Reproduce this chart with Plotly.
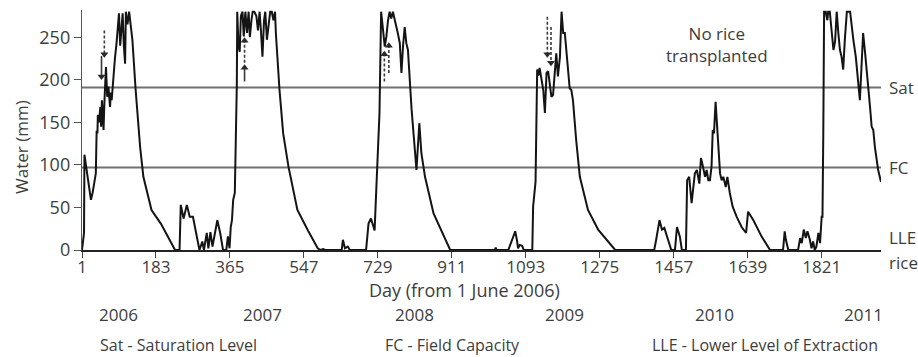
import plotly.graph_objects as go

# ---- data ----
days = [1, 6, 7, 11, 19, 23, 27, 35, 37, 39, 40, 43, 46, 48, 50, 52, 54, 56, 58, 60, 63, 66, 70, 72, 74, 78, 82, 86,
        89, 92, 95, 97, 101, 104, 107, 109, 113, 117, 121, 125, 133, 144, 152, 172, 195, 226, 230, 241, 244, 251,
        259, 266, 274, 290, 297, 301, 308, 312, 317, 322, 329, 334, 341, 348, 356, 360, 364, 367, 370, 373, 377,
        380, 382, 383, 386, 389, 392, 396, 399, 403, 407, 411, 414, 418, 421, 425, 430, 434, 438, 441, 445, 449,
        452, 456, 460, 464, 468, 472, 476, 478, 487, 496, 509, 531, 557, 581, 588, 594, 600, 640, 643, 648, 655,
        660, 700, 706, 712, 716, 721, 725, 729, 733, 737, 741, 746, 750, 754, 758, 762, 766, 770, 774, 778, 783,
        787, 791, 795, 799, 803, 812, 820, 824, 831, 836, 845, 866, 907, 1017, 1019, 1021, 1050, 1054, 1062,
        1067, 1071, 1074, 1078, 1084, 1088, 1109, 1111, 1117, 1121, 1124, 1127, 1131, 1136, 1140, 1144, 1148,
        1152, 1156, 1160, 1164, 1168, 1172, 1177, 1181, 1185, 1189, 1193, 1201, 1205, 1209, 1217, 1226, 1246,
        1271, 1313, 1409, 1413, 1422, 1428, 1434, 1443, 1451, 1460, 1465, 1472, 1477, 1487, 1490, 1495, 1501,
        1509, 1514, 1520, 1524, 1529, 1534, 1538, 1542, 1546, 1550, 1553, 1556, 1560, 1564, 1571, 1575, 1579,
        1585, 1589, 1595, 1602, 1612, 1624, 1635, 1640, 1653, 1673, 1694, 1726, 1730, 1733, 1739, 1763, 1768,
        1772, 1777, 1782, 1786, 1792, 1796, 1800, 1804, 1808, 1813, 1817, 1821, 1823, 1825, 1827, 1831, 1835,
        1837, 1841, 1846, 1850, 1854, 1858, 1862, 1866, 1870, 1874, 1878, 1883, 1891, 1895, 1899, 1905, 1911,
        1915, 1919, 1923, 1928, 1932, 1936, 1940, 1944, 1948, 1952, 1956, 1960, 1967]
water = [0, 20, 112, 98, 74, 59, 67, 90, 140, 137, 159, 150, 168, 145, 176, 160, 141, 172, 200, 215, 180, 192, 168,
         185, 176, 204, 225, 243, 265, 278, 240, 258, 278, 240, 219, 280, 265, 280, 262, 247, 188, 121, 86, 47, 31,
         4, 0, 0, 53, 37, 53, 39, 39, 0, 10, 0, 20, 2, 21, 4, 23, 35, 20, 0, 0, 16, 2, 27, 35, 59, 67, 137, 196, 280,
         240, 233, 275, 280, 251, 280, 255, 280, 250, 270, 280, 280, 275, 258, 280, 260, 227, 270, 280, 247, 265,
         280, 280, 270, 280, 255, 188, 137, 98, 47, 23, 2, 0, 1, 0, 0, 12, 2, 4, 0, 0, 31, 37, 30, 23, 70, 117, 161,
         280, 262, 239, 251, 270, 280, 272, 280, 272, 266, 255, 243, 208, 240, 262, 243, 235, 165, 110, 94, 149,
         114, 86, 43, 0, 0, 3, 0, 0, 5, 16, 22, 12, 2, 6, 5, 0, 0, 51, 80, 212, 205, 214, 204, 188, 161, 208, 210,
         192, 180, 182, 204, 231, 204, 227, 280, 255, 255, 231, 190, 188, 176, 129, 86, 47, 24, 0, 0, 10, 35, 24,
         26, 12, 0, 0, 27, 16, 0, 0, 82, 86, 55, 90, 94, 78, 108, 98, 86, 94, 82, 82, 98, 141, 137, 174, 145, 90,
         82, 86, 74, 86, 67, 51, 39, 27, 20, 45, 35, 16, 0, 0, 22, 12, 0, 0, 14, 8, 24, 14, 22, 12, 2, 10, 0, 4, 20,
         8, 39, 39, 137, 280, 280, 270, 280, 280, 255, 235, 245, 280, 255, 235, 227, 212, 247, 280, 280, 262, 247,
         227, 200, 176, 215, 255, 231, 212, 188, 168, 145, 141, 121, 110, 94, 80]

sat_level = 191
fc_level = 97

x_ticks = [1, 183, 365, 547, 729, 911, 1093, 1275, 1457, 1639, 1821]
y_ticks = [0, 50, 100, 150, 200, 250]

years = ["2006", "2007", "2008", "2009", "2010", "2011"]
year_days = [90, 444, 820, 1187, 1558, 1923]

# transplanting arrows: day, start value, end (tip) value, dashed?
arrow_day = [56, 49, 401, 401, 745, 756, 1146, 1155]
arrow_from = [258, 228, 198, 220, 198, 208, 274, 262]
arrow_to = [230, 204, 214, 246, 230, 240, 230, 220]
arrow_dashed = [True, False, False, True, True, True, True, True]

FONT = "Open Sans"
TXT = "#3d3d3d"

fig = go.Figure()

# Sat / FC reference lines
for lvl in (sat_level, fc_level):
    fig.add_shape(type="line", xref="paper", x0=0, x1=1, yref="y", y0=lvl, y1=lvl,
                  line=dict(color="#707070", width=2), layer="below")

# main series
fig.add_trace(go.Scatter(x=days, y=water, mode="lines",
                         line=dict(color="#141414", width=2), cliponaxis=False,
                         hoverinfo="skip", showlegend=False))

# arrows
for d, a, b, dsh in zip(arrow_day, arrow_from, arrow_to, arrow_dashed):
    fig.add_trace(go.Scatter(x=[d, d], y=[a, b], mode="lines",
                             line=dict(color="#3a3a3a", width=1.6, dash="3px,2px" if dsh else "solid"),
                             hoverinfo="skip", showlegend=False))
    fig.add_trace(go.Scatter(x=[d], y=[b], mode="markers",
                             marker=dict(symbol="triangle-up" if b > a else "triangle-down",
                                         size=7, color="#2a2a2a"),
                             hoverinfo="skip", showlegend=False))

ann = []
# right labels
for txt, yv, yr in [("Sat", sat_level, "y"), ("FC", fc_level, "y"), ("LLE", 15, "y"), ("rice", -0.054, "paper")]:
    ann.append(dict(text=txt, xref="paper", x=1.008, xanchor="left", yref=yr, y=yv,
                    yanchor="middle", showarrow=False, font=dict(family=FONT, size=17, color=TXT)))
# year labels
for yr_txt, d in zip(years, year_days):
    ann.append(dict(text=yr_txt, xref="x", x=d, yref="paper", y=-0.27, yanchor="middle",
                    showarrow=False, font=dict(family=FONT, size=17, color=TXT)))
# bottom legend texts
for txt, xp in [("Sat - Saturation Level", 0.02), ("FC - Field Capacity", 0.377),
                ("LLE - Lower Level of Extraction", 0.711)]:
    ann.append(dict(text=txt, xref="paper", x=xp, xanchor="left", yref="paper", y=-0.396,
                    yanchor="middle", showarrow=False, font=dict(family=FONT, size=16, color=TXT)))
# x title
ann.append(dict(text="Day (from 1 June 2006)", xref="paper", x=0.479, yref="paper", y=-0.168,
                yanchor="middle", showarrow=False, font=dict(family=FONT, size=18, color=TXT)))
# y title
ann.append(dict(text="Water (mm)", xref="paper", x=-0.075, yref="paper", y=0.43, textangle=-90,
                xanchor="center", yanchor="middle", showarrow=False,
                font=dict(family=FONT, size=17, color=TXT)))
# no rice note
ann.append(dict(text="No rice<br>transplanted", xref="x", x=1563, yref="y", y=241,
                yanchor="middle", showarrow=False, align="center",
                font=dict(family=FONT, size=17, color=TXT)))

fig.update_layout(
    width=918, height=357,
    margin=dict(l=82, r=37, t=10, b=107),
    paper_bgcolor="white", plot_bgcolor="white",
    annotations=ann,
    xaxis=dict(range=[1, 1967], tickvals=x_ticks, ticktext=[str(v) for v in x_ticks],
               showgrid=False, zeroline=False, showline=True, linecolor="#222", linewidth=1.6,
               ticks="outside", ticklen=6, tickwidth=1.4, tickcolor="#444", ticklabelstandoff=-5,
               tickfont=dict(family=FONT, size=17, color=TXT)),
    yaxis=dict(range=[0, 282], tickvals=y_ticks, showgrid=False, zeroline=False,
               showline=True, linecolor="#555", linewidth=1.4,
               ticks="outside", ticklen=7, tickwidth=1.4, tickcolor="#555",
               tickfont=dict(family=FONT, size=18, color=TXT)),
    showlegend=False,
)

fig.write_html("out.html", config={"displayModeBar": False},
               post_script="document.body.style.margin='0';document.body.style.overflow='hidden';")
